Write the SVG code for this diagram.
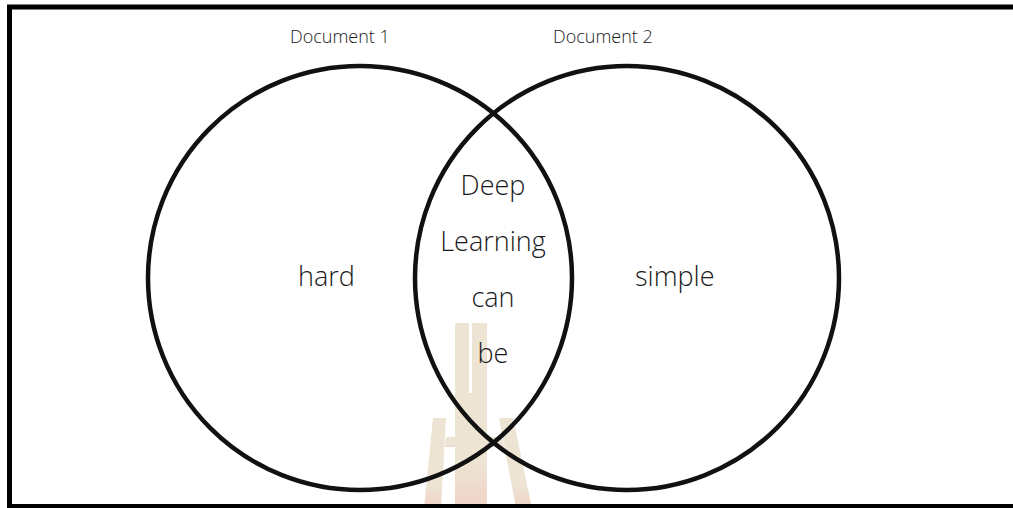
<svg xmlns="http://www.w3.org/2000/svg" width="1013" height="508" viewBox="0 0 1013 508">
<defs>
<style>
.circle{fill:none;stroke:#111;stroke-width:4.5}
.lbl{font-family:"Open Sans","Noto Sans",sans-serif;fill:#1a1a1a;font-weight:300}
.small{font-size:18px}
.big{font-size:27px}
</style>
<linearGradient id="wmg" x1="0" y1="0" x2="0" y2="1">
<stop offset="0" stop-color="#ede4d3"/>
<stop offset="0.75" stop-color="#ede4d3"/>
<stop offset="1" stop-color="#f1d3c8"/>
</linearGradient>
</defs>
<rect width="1013" height="508" fill="#fff"/>
<g id="watermark" fill="url(#wmg)">
<rect x="455" y="323" width="32" height="185"/>
<rect x="469" y="323" width="3" height="70" fill="#fff"/>
<polygon points="433,418 446,418 441,508 424,508"/>
<polygon points="446,437 455,437 455,447 445,447"/>
<polygon points="499,418 513,418 532,508 516,508"/>
<polygon points="487,437 502,437 504,447 487,447"/>
</g>
<g id="frame">
<polyline points="1013,7 9.5,7 9.5,506.5 1013,506.5" fill="none" stroke="#000" stroke-width="5"/>
</g>
<g id="document1">
<circle class="circle" cx="360" cy="278" r="212"/>
<text class="lbl small" x="290" y="43">Document 1</text>
<text class="lbl big" x="298" y="286">hard</text>
</g>
<g id="document2">
<circle class="circle" cx="627" cy="278" r="212"/>
<text class="lbl small" x="553" y="43">Document 2</text>
<text class="lbl big" x="635" y="286">simple</text>
</g>
<g id="overlap" class="lbl big" text-anchor="middle">
<text x="493" y="195">Deep</text>
<text x="493" y="251">Learning</text>
<text x="493" y="307">can</text>
<text x="493" y="363">be</text>
</g>
<g id="connectors"/>
</svg>
